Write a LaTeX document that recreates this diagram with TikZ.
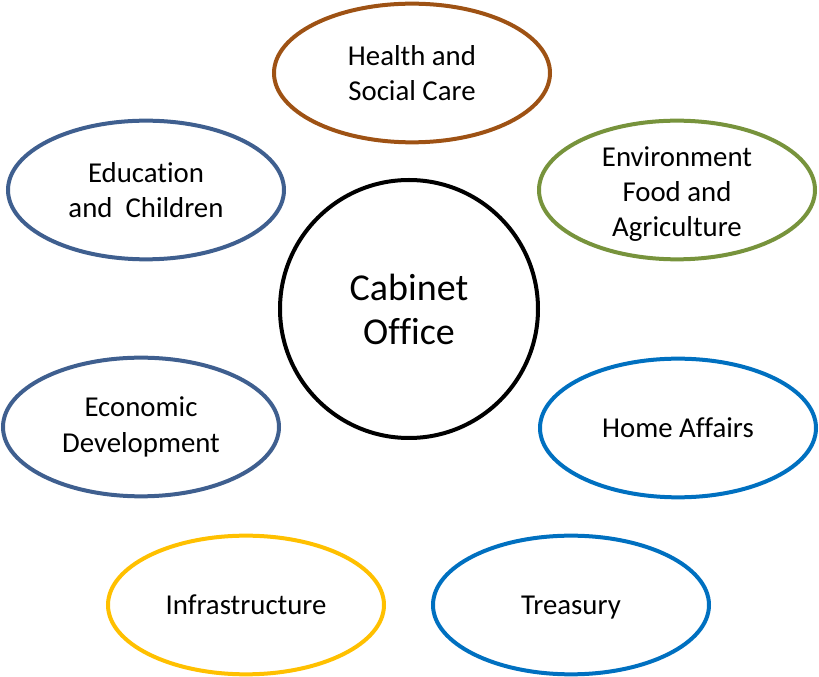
\documentclass[tikz,border=0pt]{standalone}
\usepackage{fontspec}
\setmainfont{Carlito}[Ligatures={NoCommon}]
\usetikzlibrary{shapes.geometric}
\definecolor{cbrown}{HTML}{9E5214}
\definecolor{cslate}{HTML}{3F5F8F}
\definecolor{colive}{HTML}{77933C}
\definecolor{cblue}{HTML}{0070C0}
\definecolor{cyellow}{HTML}{FFC000}
\tikzset{
  deptfont/.style={font=\fontsize{21.6}{26.5}\selectfont},
  dept/.style={ellipse, draw=#1, line width=3pt, minimum width=207pt, minimum height=104pt,
    inner sep=0pt, align=center, deptfont},
  hub/.style={circle, draw=black, line width=3pt, minimum size=193.5pt, inner sep=0pt,
    align=center, font=\fontsize{28.5}{33}\selectfont}
}
\begin{document}
\begin{tikzpicture}[x=0.75pt,y=-0.75pt]
\useasboundingbox (0,0) rectangle (819,677);
\node[hub] (cab) at (409,309) {Cabinet\\Office};
\node[dept=cbrown] (health) at (412,73) {Health and\\Social Care};
\node[dept=cslate] (edu) at (146,190) {Education\\and~ Children};
\node[dept=colive] (env) at (677,190) {};
\node[align=center, inner sep=0pt, deptfont] (envtext) at ([yshift=-3pt]env.center)
  {Environment\\Food and\\Agriculture};
\node[dept=cslate] (eco) at (141,427) {Economic\\Development};
\node[dept=cblue] (home) at (678,428) {Home Affairs};
\node[dept=cyellow] (infra) at (246,605) {Infrastructure};
\node[dept=cblue] (treas) at (571,605) {\raisebox{0pt}[\height][0pt]{Treasury}};
\end{tikzpicture}
\end{document}
